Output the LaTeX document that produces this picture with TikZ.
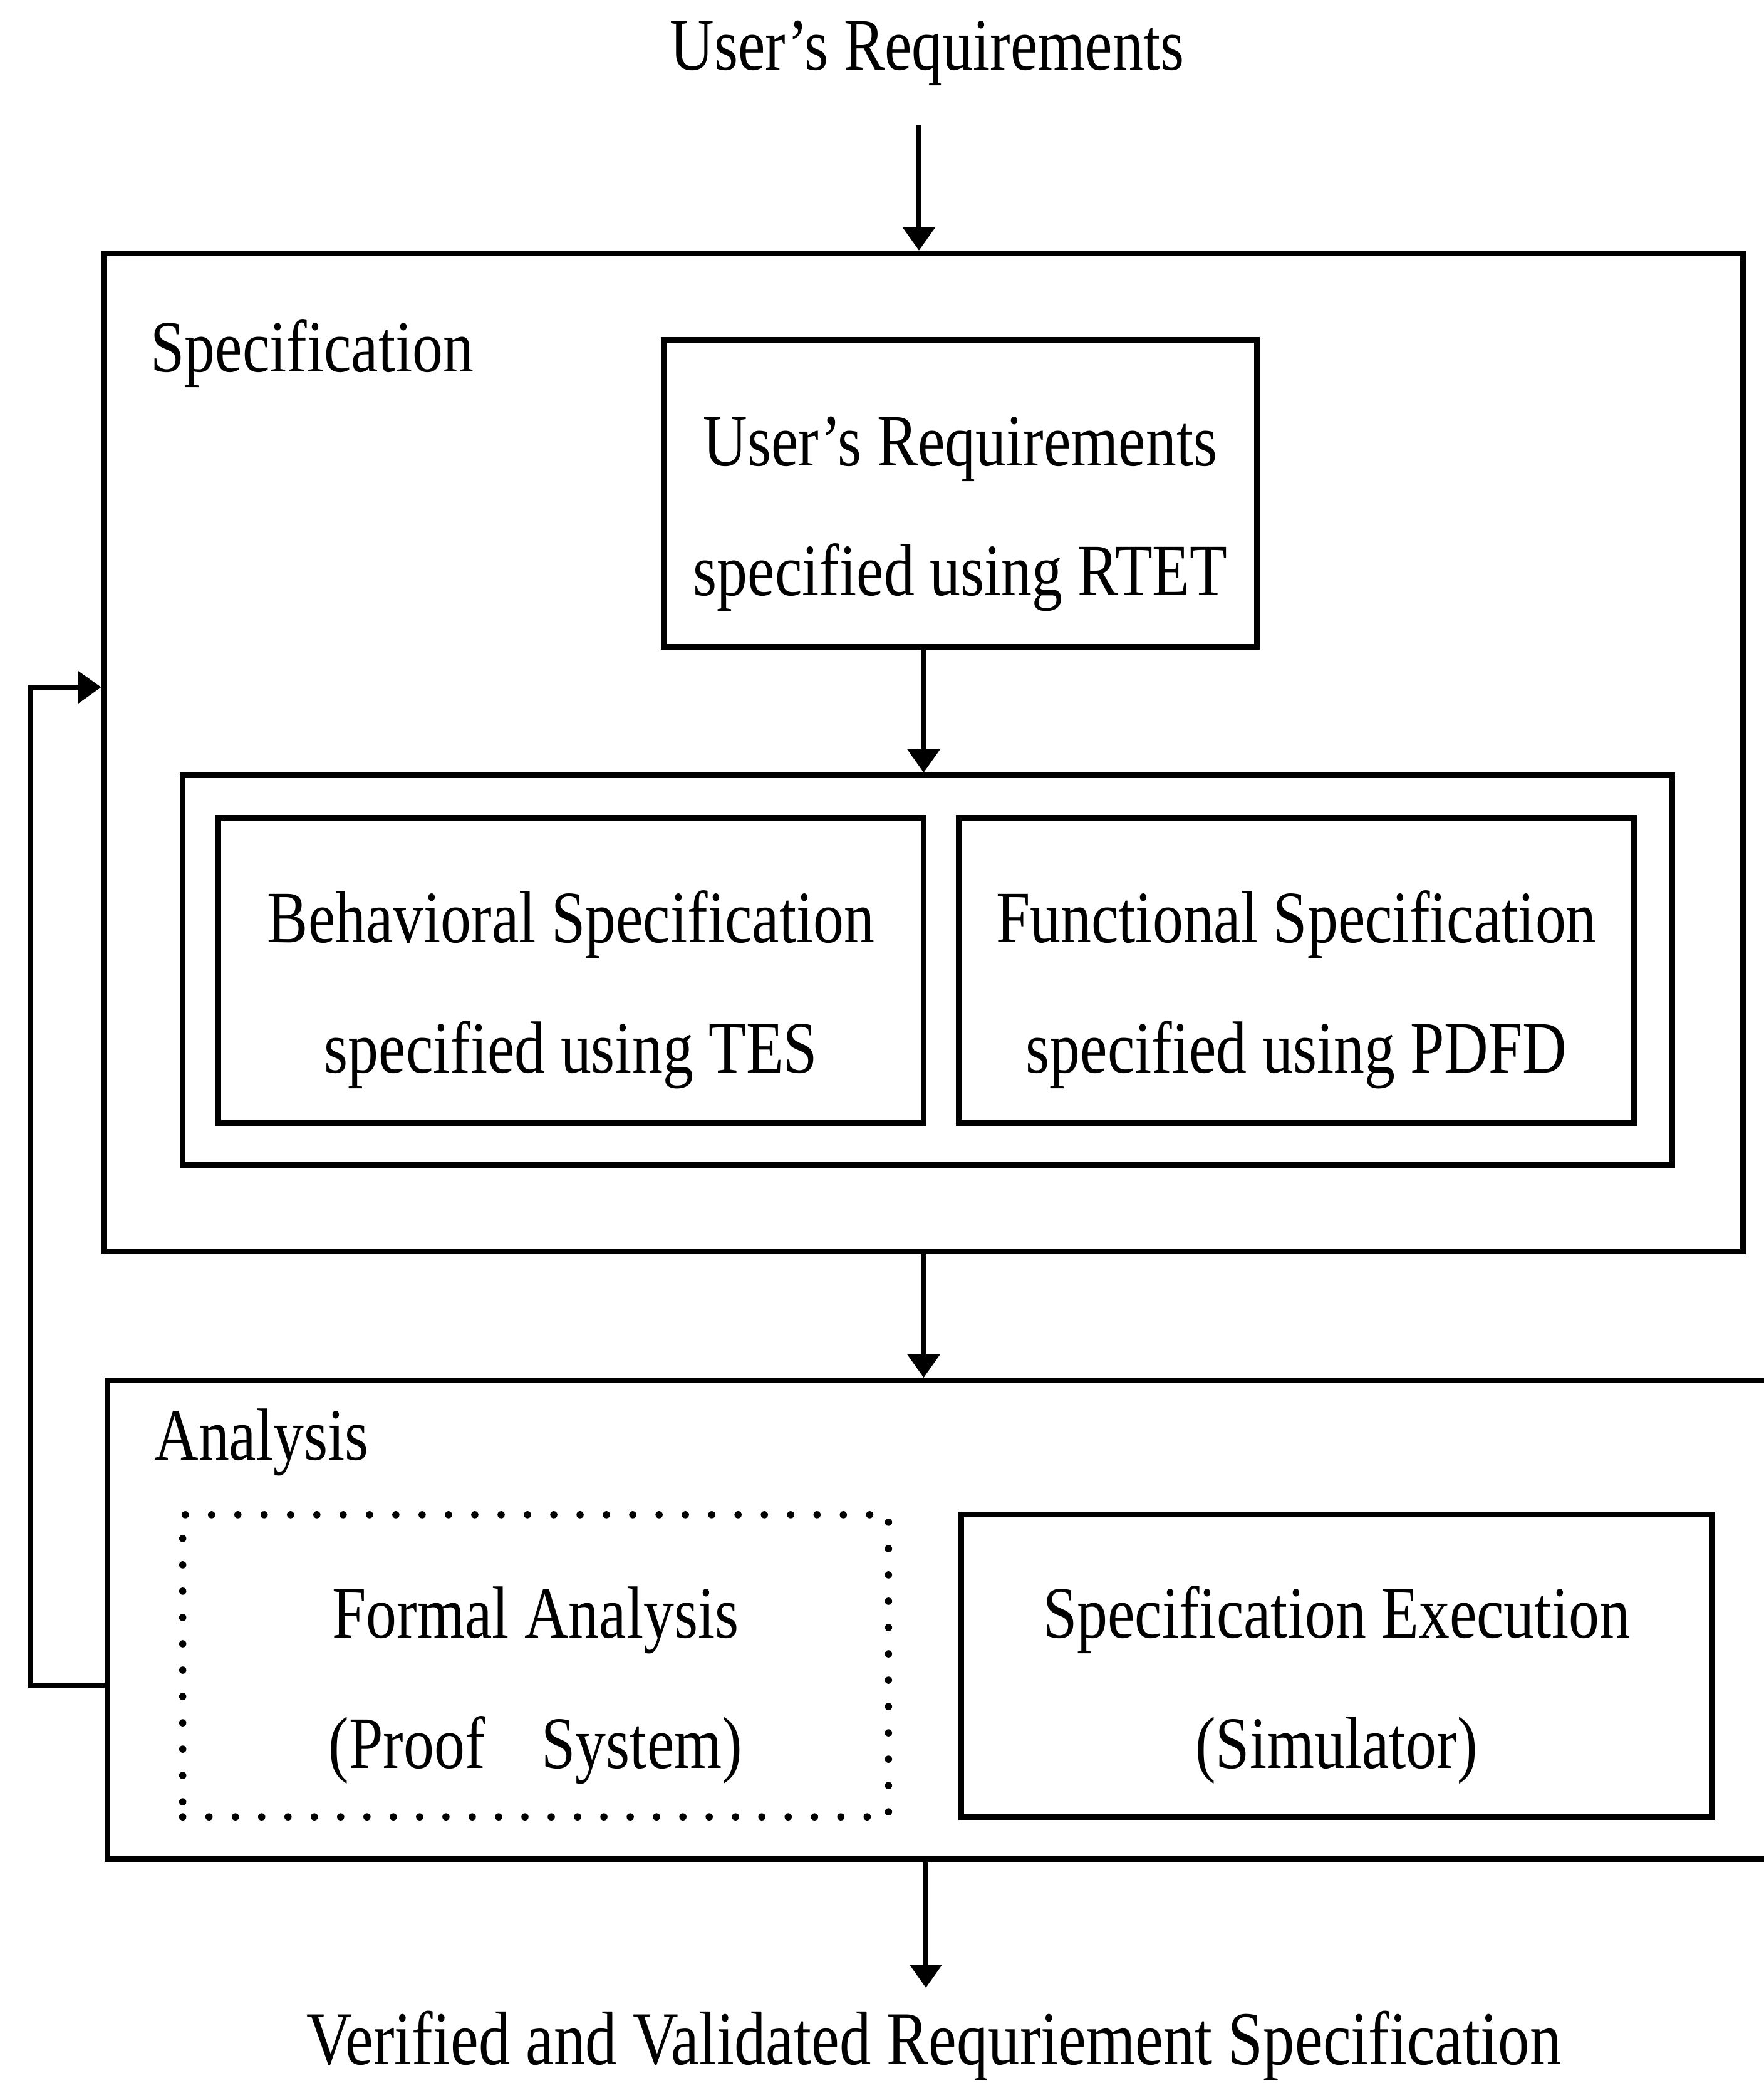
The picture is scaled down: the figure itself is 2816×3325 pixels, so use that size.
\documentclass[tikz,border=0pt]{standalone}
\usepackage{fontspec}
\setmainfont{Liberation Serif}[FakeStretch=0.83]
\usetikzlibrary{arrows.meta}
\tikzset{
	box/.style = {draw, line width=2.6pt, inner sep=0pt, align=center,
		text height=3.5cm, text depth=0.24cm},
	panel/.style = {draw, line width=2.6pt, inner sep=0pt},
	dotbox/.style = {box, line width=3.3pt, line cap=round, dash pattern=on 0pt off 0.42cm},
	flow/.style = {line width=2.3pt, -{Triangle[width=0.5cm,length=0.37cm]}}
}

\begin{document}
\begin{tikzpicture}[x=0.01cm, y=-0.01cm, font=\fontsize{33.5}{59}\selectfont]
	\clip (0,0) rectangle (2816,3325);
	\node[anchor=base] (usrreq) at (1480,112) {User’s Requirements};
	\node[panel, minimum width=26.15cm, minimum height=15.92cm] (spec) at (1474.5,1201) {};
	\node[anchor=base west] (speclbl) at (228,594) {Specification};
	\node[box, minimum width=9.46cm, minimum height=4.89cm] (rtet) at (1533,787.5) {User’s Requirements\\specified using RTET};
	\node[panel, minimum width=23.77cm, minimum height=6.21cm] (specpair) at (1480.5,1548.5) {};
	\node[box, minimum width=11.25cm, minimum height=4.86cm] (beh) at (911.5,1549) {Behavioral Specification\\specified using TES};
	\node[box, minimum width=10.77cm, minimum height=4.86cm] (fun) at (2069.5,1549) {Functional Specification\\specified using PDFD};
	\node[panel, minimum width=26.68cm, minimum height=7.63cm] (analysis) at (1506,2585.5) {};
	\node[anchor=base west] (analbl) at (234,2330) {Analysis};
	\node[dotbox, minimum width=11.26cm, minimum height=4.82cm] (formal) at (855,2659) {Formal Analysis\\(Proof\hspace{0.9cm}System)};
	\node[box, minimum width=11.97cm, minimum height=4.82cm] (simu) at (2133.5,2659) {Specification Execution\\(Simulator)};
	\node[anchor=base] (vvrs) at (1491,3295) {\fontsize{34.5}{59}\selectfont Verified and Validated Requriement Specification};
	\coordinate (inA) at (1467,200);
	\coordinate (outA) at (1478,3173);
	\coordinate (loop) at (48,1097);
	\draw[flow] (inA) -- (inA |- spec.north);
	\draw[flow] (rtet.south -| spec.north) -- (specpair.north -| spec.north);
	\draw[flow] (spec.south) -- (spec.south |- analysis.north);
	\draw[flow] (outA |- analysis.south) -- (outA);
	\draw[flow] ([yshift=-1.045cm]analysis.west) -| (loop) -- (loop -| spec.west);
\end{tikzpicture}
\end{document}
